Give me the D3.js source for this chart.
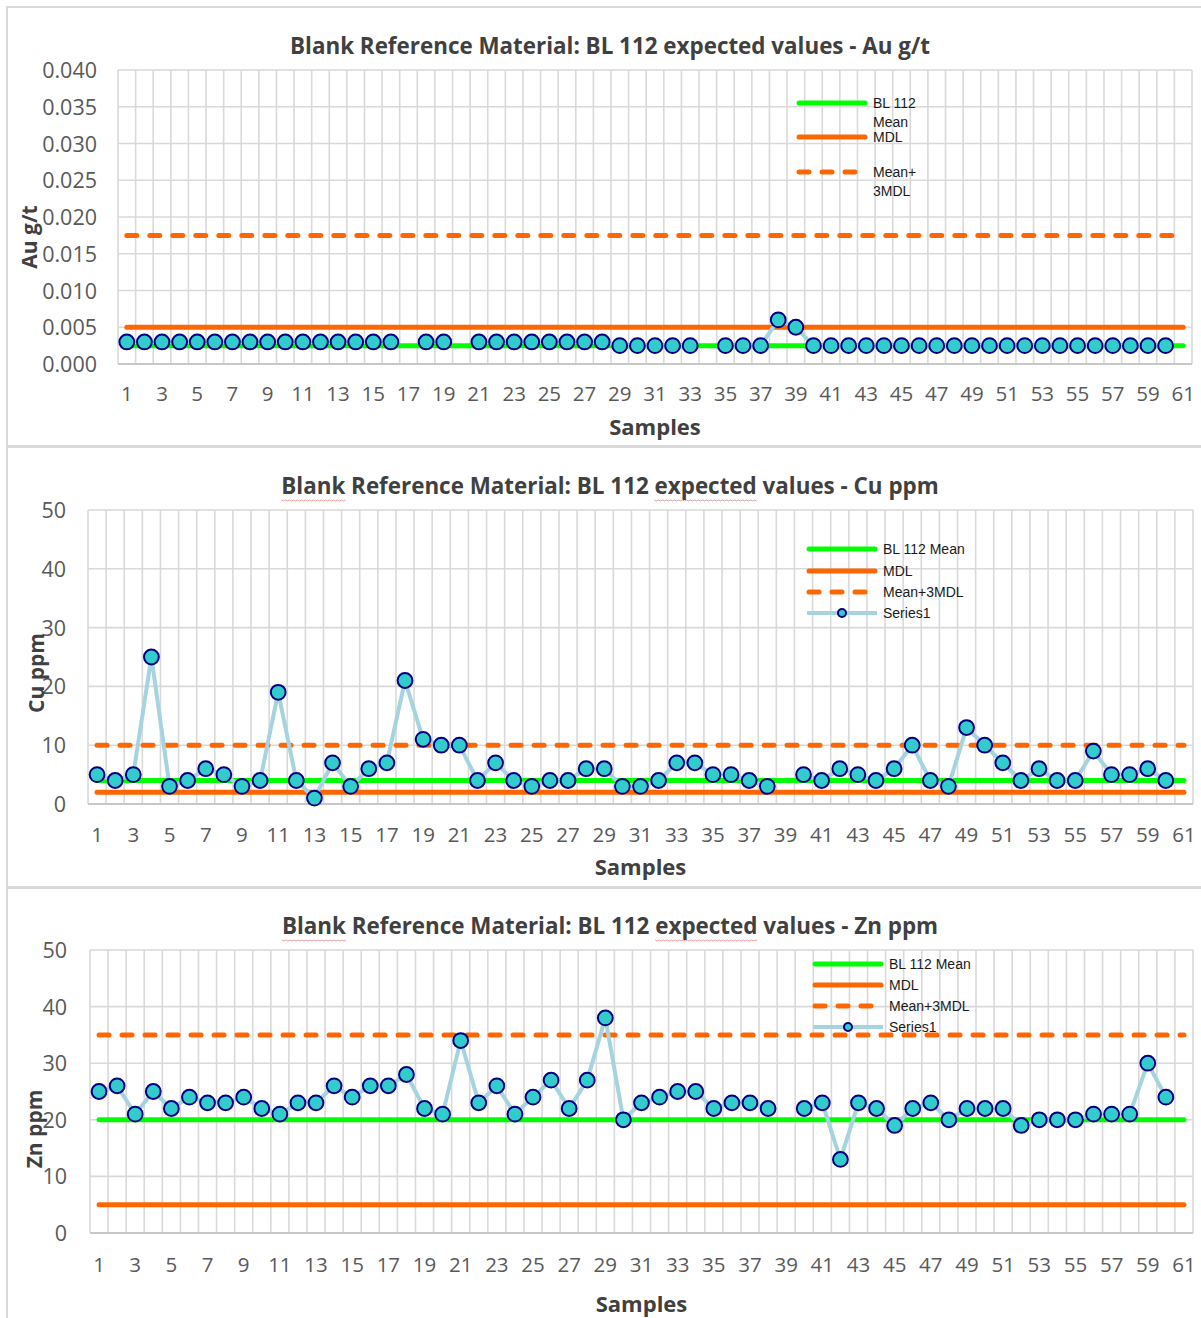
<!DOCTYPE html>
<html>
<head>
<meta charset="utf-8">
<script src="https://cdn.jsdelivr.net/npm/d3@7"></script>
<style>
  html, body { margin: 0; padding: 0; background: #fff; }
  svg { display: block; }
</style>
</head>
<body>
<svg id="chart" width="1201" height="1318"></svg>
<script>
// Sample numbers along the x axis and the odd ones that get a label
const samples = d3.range(1, 62);
const xTickLabels = samples.filter(d => d % 2 === 1);

// Au g/t results (null = no result for that sample)
const auValues = [0.003,0.003,0.003,0.003,0.003,0.003,0.003,0.003,0.003,0.003,
  0.003,0.003,0.003,0.003,0.003,0.003,null,0.003,0.003,null,
  0.003,0.003,0.003,0.003,0.003,0.003,0.003,0.003,0.0025,0.0025,
  0.0025,0.0025,0.0025,null,0.0025,0.0025,0.0025,0.006,0.005,0.0025,
  0.0025,0.0025,0.0025,0.0025,0.0025,0.0025,0.0025,0.0025,0.0025,0.0025,
  0.0025,0.0025,0.0025,0.0025,0.0025,0.0025,0.0025,0.0025,0.0025,0.0025,null];
const auLevels = [0.0025, 0.005, 0.0175];   // mean, MDL, mean + 3 MDL
const auTicks = [0, 0.005, 0.01, 0.015, 0.02, 0.025, 0.03, 0.035, 0.04];

// Cu ppm results
const cuValues = [5,4,5,25,3,4,6,5,3,4,19,4,1,7,3,6,7,21,11,10,
  10,4,7,4,3,4,4,6,6,3,3,4,7,7,5,5,4,3,null,5,
  4,6,5,4,6,10,4,3,13,10,7,4,6,4,4,9,5,5,6,4,null];
const cuLevels = [4, 2, 10];
const cuTicks = [0, 10, 20, 30, 40, 50];

// Zn ppm results
const znValues = [25,26,21,25,22,24,23,23,24,22,21,23,23,26,24,26,26,28,22,21,
  34,23,26,21,24,27,22,27,38,20,23,24,25,25,22,23,23,22,null,22,
  23,13,23,22,19,22,23,20,22,22,22,19,20,20,20,21,21,21,30,24,null];
const znLevels = [20, 5, 35];
const znTicks = [0, 10, 20, 30, 40, 50];

const titles = [
  "Blank Reference Material: BL 112 expected values - Au g/t",
  "Blank Reference Material: BL 112 expected values - Cu ppm",
  "Blank Reference Material: BL 112 expected values - Zn ppm"
];
const yTitles = ["Au g/t", "Cu ppm", "Zn ppm"];
const auLegend = [["BL 112", "Mean"], ["MDL"], ["Mean+", "3MDL"]];
const fullLegend = [["BL 112 Mean"], ["MDL"], ["Mean+3MDL"], ["Series1"]];

const svg = d3.select("#chart");
const GREEN = "#00ff00", ORANGE = "#ff6600", SERIES = "#a5d3df";
const MARK_FILL = "#33cccc", MARK_STROKE = "#000080";
const GRID = "#d9d9d9";
const TICK_FONT = "'Open Sans', sans-serif";

const panels = [
  { values: auValues, levels: auLevels, ticks: auTicks, fmt: d3.format(".3f"),
    title: titles[0], yTitle: yTitles[0],
    box: [7, 446], plotX: [118, 1192], plotY: [70, 364],
    titleY: 46, yTitlePos: [30, 237], yLabelX: 97, xLabelY: 394, samplesY: 427,
    legend: auLegend, legendX: 797, legendY: [103, 137, 172], spell: false },
  { values: cuValues, levels: cuLevels, ticks: cuTicks, fmt: d3.format("d"),
    title: titles[1], yTitle: yTitles[1],
    box: [447, 887], plotX: [88, 1193], plotY: [510, 804],
    titleY: 486, yTitlePos: [37, 673], yLabelX: 66, xLabelY: 835, samplesY: 867,
    legend: fullLegend, legendX: 807, legendY: [549, 571, 592, 613], spell: true },
  { values: znValues, levels: znLevels, ticks: znTicks, fmt: d3.format("d"),
    title: titles[2], yTitle: yTitles[2],
    box: [888, 1340], plotX: [90, 1193], plotY: [950, 1233],
    titleY: 926, yTitlePos: [35, 1129], yLabelX: 67, xLabelY: 1265, samplesY: 1304,
    legend: fullLegend, legendX: 813, legendY: [964, 985, 1006, 1027], spell: true }
];

function drawPanel(p) {
  const g = svg.append("g");

  // chart area frame
  g.append("rect")
    .attr("x", 7).attr("y", p.box[0])
    .attr("width", 1220).attr("height", p.box[1] - p.box[0])
    .attr("fill", "#fff").attr("stroke", GRID).attr("stroke-width", 2);

  const x = d3.scaleBand().domain(samples).range(p.plotX).padding(0);
  const cx = d => x(d) + x.bandwidth() / 2;
  const y = d3.scaleLinear().domain([p.ticks[0], p.ticks[p.ticks.length - 1]]).range([p.plotY[1], p.plotY[0]]);

  // gridlines: one vertical line per category boundary, one horizontal per tick
  const bounds = samples.map(s => x(s)).concat([p.plotX[1]]);
  g.append("g").selectAll("line").data(bounds).join("line")
    .attr("x1", d => d).attr("x2", d => d)
    .attr("y1", p.plotY[0]).attr("y2", p.plotY[1])
    .attr("stroke", GRID).attr("stroke-width", 1.6);
  g.append("g").selectAll("line").data(p.ticks).join("line")
    .attr("x1", p.plotX[0]).attr("x2", p.plotX[1])
    .attr("y1", d => y(d)).attr("y2", d => y(d))
    .attr("stroke", d => d === p.ticks[0] ? "#c8c8c8" : GRID).attr("stroke-width", d => d === p.ticks[0] ? 2 : 1.6);

  // y axis labels
  const yAxis = g.append("g")
    .attr("transform", `translate(${p.yLabelX},0)`)
    .call(d3.axisLeft(y).tickValues(p.ticks).tickFormat(p.fmt).tickSize(0).tickPadding(0));
  yAxis.select(".domain").remove();
  yAxis.selectAll("text")
    .attr("font-family", TICK_FONT).attr("font-size", 21.5).attr("fill", "#595959")
    .attr("dy", "0.35em");

  // x axis labels
  const xAxis = g.append("g")
    .attr("transform", `translate(0,${p.xLabelY})`)
    .call(d3.axisBottom(x).tickValues(xTickLabels).tickSize(0).tickPadding(0));
  xAxis.select(".domain").remove();
  xAxis.selectAll("text")
    .attr("font-family", TICK_FONT).attr("font-size", 20.5).attr("fill", "#595959")
    .attr("y", 0).attr("dy", "0.35em");

  // reference levels: mean, MDL, mean + 3 MDL
  const levelStyle = [
    { color: GREEN, dash: null },
    { color: ORANGE, dash: null },
    { color: ORANGE, dash: "10,13" }
  ];
  p.levels.forEach((lv, i) => {
    const pts = samples.map(s => [cx(s), y(lv)]);
    g.append("path")
      .attr("d", d3.line()(pts))
      .attr("fill", "none")
      .attr("stroke", levelStyle[i].color)
      .attr("stroke-width", 5)
      .attr("stroke-linecap", "round")
      .attr("stroke-dasharray", levelStyle[i].dash);
  });

  // sample results line with gaps where a result is missing
  const series = samples.map((s, i) => ({ s, v: p.values[i] }));
  const line = d3.line()
    .defined(d => d.v !== null)
    .x(d => cx(d.s)).y(d => y(d.v));
  g.append("path")
    .attr("d", line(series))
    .attr("fill", "none").attr("stroke", SERIES)
    .attr("stroke-width", 4).attr("stroke-linejoin", "round").attr("stroke-linecap", "round");

  g.append("g").selectAll("circle").data(series.filter(d => d.v !== null)).join("circle")
    .attr("cx", d => cx(d.s)).attr("cy", d => y(d.v)).attr("r", 7.4)
    .attr("fill", MARK_FILL).attr("stroke", MARK_STROKE).attr("stroke-width", 2);

  // chart title
  const title = g.append("text")
    .attr("x", 610).attr("y", p.titleY).attr("text-anchor", "middle").attr("dy", "0.35em")
    .attr("font-family", TICK_FONT).attr("font-weight", 700).attr("font-size", 22.4)
    .attr("fill", "#404040").text(p.title);

  if (p.spell) {
    // squiggly underline under the words a spell checker flags
    const node = title.node();
    const total = node.getComputedTextLength();
    const left = 610 - total / 2;
    ["Blank", "expected"].forEach(word => {
      const idx = p.title.indexOf(word);
      const x0 = left + node.getSubStringLength(0, idx);
      const w = node.getSubStringLength(idx, word.length);
      const pts = d3.range(0, Math.floor(w / 2) + 1).map(k => [x0 + k * 2, p.titleY + 14 + (k % 2 ? 1 : 0)]);
      g.append("path").attr("d", d3.line()(pts)).attr("fill", "none")
        .attr("stroke", "#e8a0a0").attr("stroke-width", 1);
    });
  }

  // axis titles
  g.append("text")
    .attr("transform", `translate(${p.yTitlePos[0]},${p.yTitlePos[1]}) rotate(-90)`)
    .attr("text-anchor", "middle").attr("dy", "0.35em")
    .attr("font-family", TICK_FONT).attr("font-weight", 700).attr("font-size", 21)
    .attr("fill", "#404040").text(p.yTitle);
  g.append("text")
    .attr("x", (p.plotX[0] + p.plotX[1]) / 2).attr("y", p.samplesY)
    .attr("text-anchor", "middle").attr("dy", "0.35em")
    .attr("font-family", TICK_FONT).attr("font-weight", 700).attr("font-size", 22)
    .attr("fill", "#404040").text("Samples");

  // legend
  const lg = g.append("g");
  p.legend.forEach((lines, i) => {
    const ly = p.legendY[i];
    const x0 = p.legendX, x1 = p.legendX + 70;
    if (i < 3) {
      lg.append("line").attr("x1", x0 + 2).attr("x2", x1 - 2).attr("y1", ly).attr("y2", ly)
        .attr("stroke", levelStyle[i].color).attr("stroke-width", 5).attr("stroke-linecap", "round")
        .attr("stroke-dasharray", levelStyle[i].dash);
    } else {
      lg.append("line").attr("x1", x0).attr("x2", x1).attr("y1", ly).attr("y2", ly)
        .attr("stroke", SERIES).attr("stroke-width", 4);
      lg.append("circle").attr("cx", (x0 + x1) / 2).attr("cy", ly).attr("r", 4)
        .attr("fill", MARK_FILL).attr("stroke", MARK_STROKE).attr("stroke-width", 2);
    }
    lines.forEach((t, k) => {
      lg.append("text").attr("x", x1 + 6).attr("y", ly + k * 19).attr("dy", "0.35em")
        .attr("font-family", "'Liberation Sans', Arial, sans-serif").attr("font-size", 14)
        .attr("fill", "#1a1a1a").text(t);
    });
  });
}

panels.forEach(drawPanel);
</script>
</body>
</html>
